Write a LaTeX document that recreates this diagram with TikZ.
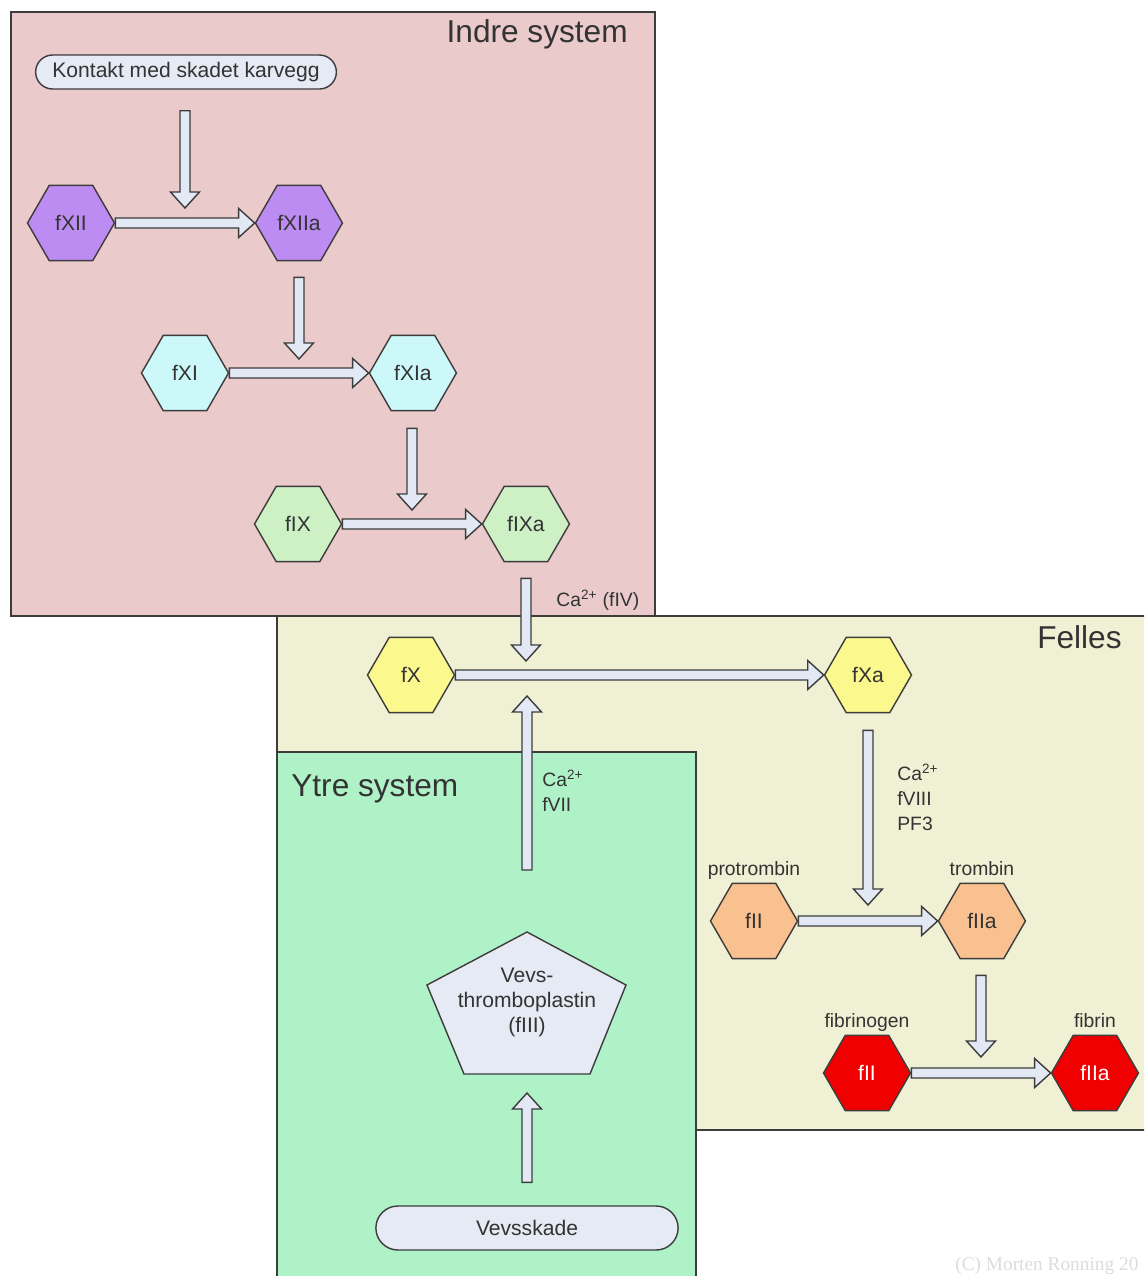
\documentclass[tikz,border=0pt]{standalone}
\usepackage{fontspec}
\setmainfont{Liberation Sans}
\newfontfamily\copyfont{Liberation Serif}
\usetikzlibrary{shapes.geometric,shapes.misc,calc,positioning}

\definecolor{indrebg}{HTML}{EACACB}
\definecolor{fellesbg}{HTML}{F0F0D4}
\definecolor{ytrebg}{HTML}{B0F2C8}
\definecolor{pillblue}{HTML}{E6EAF4}
\definecolor{arrowfill}{HTML}{E2E8F4}
\definecolor{edgegray}{HTML}{3C3C3C}
\definecolor{txtgray}{HTML}{333333}
\definecolor{hexviolet}{HTML}{BD8CF2}
\definecolor{hexcyan}{HTML}{CCF8FA}
\definecolor{hexgreen}{HTML}{CDF0C5}
\definecolor{hexyellow}{HTML}{FBF88E}
\definecolor{hexorange}{HTML}{F9C190}
\definecolor{hexred}{HTML}{F00000}
\definecolor{copygray}{HTML}{DCDCDC}

\newcommand\blockarr[2]{%
  \coordinate (ba-neck) at ($(#2)!0.32cm!(#1)$);
  \draw[blockarrow] ($(#1)!0.1cm!90:(#2)$) -- ($(ba-neck)!0.1cm!-90:(#1)$)
    -- ($(ba-neck)!0.29cm!-90:(#1)$) -- (#2)
    -- ($(ba-neck)!0.29cm!90:(#1)$) -- ($(ba-neck)!0.1cm!90:(#1)$)
    -- ($(#1)!0.1cm!-90:(#2)$) -- cycle;}

\begin{document}
\begin{tikzpicture}[x=0.02cm, y=-0.02cm, node distance=4.56cm, text=txtgray,
	font=\fontsize{12}{14.2}\selectfont,
	box/.style = {draw=edgegray, line width=1.1pt},
	hex/.style = {draw=edgegray, line width=0.8pt, regular polygon, regular polygon sides=6, minimum size=1.74cm, inner sep=0pt},
	pill/.style = {draw=edgegray, line width=0.8pt, rounded rectangle, fill=pillblue},
	blockarrow/.style = {draw=edgegray, fill=arrowfill, line width=0.8pt, line join=miter},
	title/.style = {font=\fontsize{18}{20}\selectfont, inner sep=0pt},
	note/.style = {font=\fontsize{11}{14.2}\selectfont, align=left, inner sep=0pt},
	lbl/.style = {font=\fontsize{11}{13}\selectfont, inner sep=1pt, text height=1.6ex, text depth=0.5ex}]
	\useasboundingbox (0,0) rectangle (1144,1276);
	\clip (0,0) rectangle (1144,1276);
	\draw[box, fill=indrebg] (11,12) rectangle (655,616);
	\draw[box, fill=fellesbg] (277,616) rectangle (1170,1130);
	\draw[box, fill=ytrebg] (277,752) rectangle (696,1300);
	\node[title, anchor=east] (indre) at (628,34) {Indre system};
	\node[title, anchor=east] (felles) at (1122,637) {Felles};
	\node[title, anchor=west] (ytre) at (291,789) {Ytre system};
	\node[pill, minimum width=6.25cm, minimum height=0.68cm] (kontakt) at (186,72) {Kontakt med skadet karvegg};
	\node[hex, fill=hexviolet] (xii) at (71,223) {fXII};
	\node[hex, fill=hexviolet] (xiia) [right of = xii] {fXIIa};
	\node[hex, fill=hexcyan] (xi) at (185,373) {fXI};
	\node[hex, fill=hexcyan] (xia) [right of = xi] {fXIa};
	\node[hex, fill=hexgreen] (ix) at (298,524) {fIX};
	\node[hex, fill=hexgreen] (ixa) [right of = ix] {fIXa};
	\node[hex, fill=hexyellow] (x) at (411,675) {fX};
	\node[hex, fill=hexyellow] (xa) at (868,675) {fXa};
	\node[hex, fill=hexorange, label={[lbl]above:protrombin}] (ii) at (754,921) {fII};
	\node[hex, fill=hexorange, label={[lbl]above:trombin}] (iia) [right of = ii] {fIIa};
	\node[hex, fill=hexred, text=white, label={[lbl]above:fibrinogen}] (i) at (867,1073) {fII};
	\node[hex, fill=hexred, text=white, label={[lbl]above:fibrin}] (ia) [right of = i] {fIIa};
	\draw[pill] (527,932) -- (626,985) -- (590,1074) -- (464,1074) -- (427,985) -- cycle;
	\node[align=center, inner sep=0pt] (vevs) at (527,1002) {Vevs-\\thromboplastin\\(fIII)};
	\node[pill, minimum width=6.28cm, minimum height=0.88cm] (vevsskade) at (527,1228) {Vevsskade};
	\node[note, anchor=west] (caiv) at (556,600) {Ca\textsuperscript{2+} (fIV)};
	\node[note, anchor=west] (cavii) at (542,791) {Ca\textsuperscript{2+}\\fVII};
	\node[note, anchor=west] (caviii) at (897,797) {Ca\textsuperscript{2+}\\fVIII\\PF3};
	\node[font=\copyfont\fontsize{11}{13}\selectfont, text=copygray, anchor=west, inner sep=0pt] (copy) at (955,1266) {(C) Morten Ronning 20};
	\coordinate (e1) at ($(xii)!0.5!(xiia)+(0,-15)$);
	\coordinate (s1) at ($(e1 |- kontakt.south)+(0,21)$);
	\coordinate (e2) at ($(xi)!0.5!(xia)+(0,-14)$);
	\coordinate (s2) at ($(e2 |- xiia.south)+(0,16)$);
	\coordinate (e3) at ($(ix)!0.5!(ixa)+(0,-14)$);
	\coordinate (s3) at ($(e3 |- xia.south)+(0,17)$);
	\coordinate (s4) at ($(ixa.south)+(0,16)$);
	\coordinate (e4) at ($(s4 |- x)+(0,-14)$);
	\coordinate (s5) at (527,870);
	\coordinate (e5) at ($(s5 |- x)+(0,21)$);
	\coordinate (e6) at ($(ii)!0.5!(iia)+(0,-16)$);
	\coordinate (s6) at ($(e6 |- xa.south)+(0,17)$);
	\coordinate (e7) at ($(i)!0.5!(ia)+(0,-16)$);
	\coordinate (s7) at ($(e7 |- iia.south)+(0,16)$);
	\coordinate (s8) at ($(vevsskade.north)+(0,-23)$);
	\coordinate (e8) at (527,1093);
	\blockarr{s1}{e1}
	\blockarr{xii.east}{xiia.west}
	\blockarr{s2}{e2}
	\blockarr{xi.east}{xia.west}
	\blockarr{s3}{e3}
	\blockarr{ix.east}{ixa.west}
	\blockarr{s4}{e4}
	\blockarr{s5}{e5}
	\blockarr{x.east}{xa.west}
	\blockarr{s6}{e6}
	\blockarr{ii.east}{iia.west}
	\blockarr{s7}{e7}
	\blockarr{i.east}{ia.west}
	\blockarr{s8}{e8}
\end{tikzpicture}
\end{document}
